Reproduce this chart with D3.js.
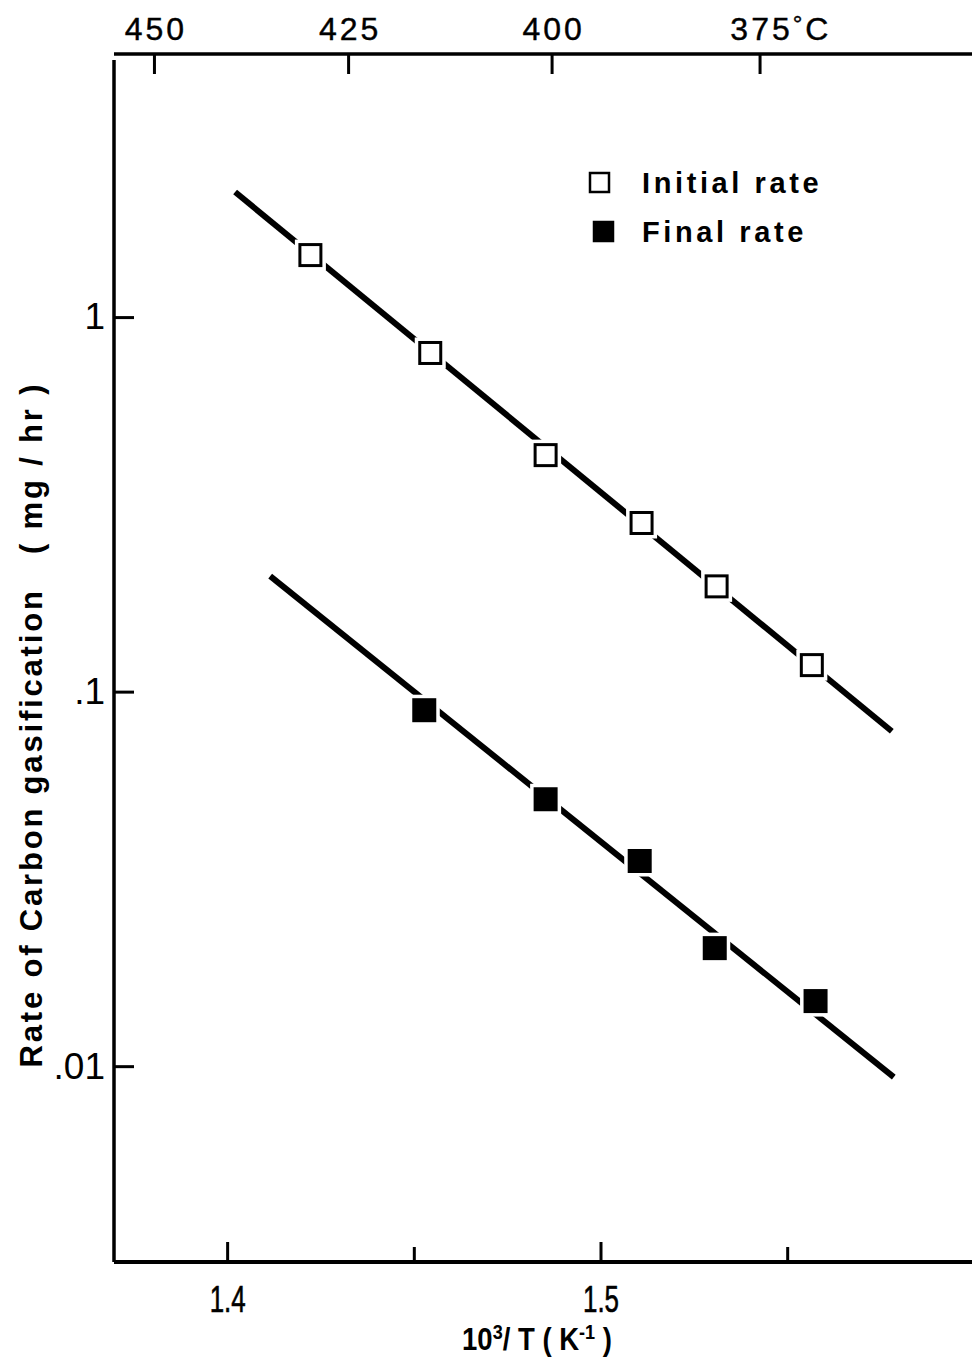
<!DOCTYPE html>
<html>
<head>
<meta charset="utf-8">
<script src="https://cdn.jsdelivr.net/npm/d3@7"></script>
<style>
  html, body { margin: 0; padding: 0; background: #fff; }
  svg { display: block; font-family: "Liberation Sans", Arial, sans-serif; }
</style>
</head>
<body>
<svg id="chart" width="972" height="1357"></svg>
<script>
// ---- Data ----
const initialX = [1.4223, 1.4544, 1.4853, 1.5110, 1.5311, 1.5566];
const initialY = [1.464, 0.802, 0.428, 0.282, 0.191, 0.1177];
const finalX   = [1.4528, 1.4853, 1.5105, 1.5306, 1.5576];
const finalY   = [0.0892, 0.0516, 0.0353, 0.02066, 0.01492];
// fitted lines (end points)
const initialLineX = [1.40214, 1.57802];
const initialLineY = [2.157, 0.0784];
const finalLineX   = [1.41153, 1.57855];
const finalLineY   = [0.2034, 0.00935];
// ticks
const bottomMajorTicks = [1.4, 1.5];
const bottomMinorTicks = [1.45, 1.55];
const bottomTickLabels = ["1.4", "1.5"];
const yTicks = [1, 0.1, 0.01];
const yTickLabels = ["1", ".1", ".01"];
// top temperature scale: positions (in 10^3/T) as drawn in the reference
const topTickPositions = [1.3804, 1.4324, 1.4869, 1.5426];
const topTickLabels = ["450", "425", "400", "375"];
const legendLabels = ["Initial rate", "Final rate"];

(function () {
// ---- Layout ----
const svg = d3.select("#chart");
const pLeft = 114, pRight = 972, pTop = 54, pBottom = 1262;

const x = d3.scaleLinear().domain([1.3697, 1.5995]).range([pLeft, pRight]);
const y = d3.scaleLog().domain([5.04, 0.003]).range([pTop, pBottom]);

function styleAxis(g, fs, sw) {
  g.selectAll(".domain").attr("stroke", "#000").attr("stroke-width", sw);
  g.selectAll(".tick line").attr("stroke", "#000").attr("stroke-width", 3);
  g.selectAll(".tick text").attr("fill", "#000").attr("font-size", fs)
    .attr("font-family", "'Liberation Sans', Arial, sans-serif");
}

// Bottom axis (major)
const gB = svg.append("g").attr("transform", `translate(0,${pBottom})`)
  .call(d3.axisBottom(x).tickValues(bottomMajorTicks)
    .tickFormat((d, i) => bottomTickLabels[i])
    .tickSizeInner(-20).tickSizeOuter(0).tickPadding(24));
styleAxis(gB, 36, 4);
gB.selectAll(".tick text").attr("textLength", 36).attr("lengthAdjust", "spacingAndGlyphs")
  .attr("stroke", "#000").attr("stroke-width", 0.6);
gB.select(".domain").attr("d", `M${pLeft},0H${pRight}`);
// Bottom axis (minor)
const gBm = svg.append("g").attr("transform", `translate(0,${pBottom})`)
  .call(d3.axisBottom(x).tickValues(bottomMinorTicks).tickFormat("")
    .tickSizeInner(-15).tickSizeOuter(0));
gBm.select(".domain").remove();
styleAxis(gBm, 27, 4);

// Left axis
const gL = svg.append("g").attr("transform", `translate(${pLeft},0)`)
  .call(d3.axisLeft(y).tickValues(yTicks)
    .tickFormat((d, i) => yTickLabels[i])
    .tickSizeInner(-20).tickSizeOuter(0).tickPadding(9));
styleAxis(gL, 37, 3.5);
gL.select(".domain").attr("d", `M0,${pTop + 6}V${pBottom}`);

// Top axis (temperature)
const gT = svg.append("g").attr("transform", `translate(0,${pTop})`)
  .call(d3.axisTop(x).tickValues(topTickPositions)
    .tickFormat((d, i) => topTickLabels[i])
    .tickSizeInner(-20).tickSizeOuter(0).tickPadding(14));
styleAxis(gT, 32, 3.5);
gT.selectAll(".tick text").attr("letter-spacing", 3).attr("dx", 1.5)
  .attr("stroke", "#000").attr("stroke-width", 0.4);
gT.select(".domain").attr("d", `M${pLeft},0H${pRight}`);
// append °C to last label, keeping number centred on tick
gT.selectAll(".tick text").each(function(d, i) {
  if (i === topTickLabels.length - 1) {
    const t = d3.select(this);
    const w = this.getComputedTextLength();
    t.attr("text-anchor", "start").attr("x", -w / 2);
    t.append("tspan").attr("font-size", 24).attr("dy", -8).text("°");
    t.append("tspan").attr("dy", 8).text("C");
  }
});

// Lines
const lineGen = d3.line().x(d => x(d[0])).y(d => y(d[1]));
svg.append("path").datum(d3.zip(initialLineX, initialLineY))
  .attr("d", lineGen).attr("stroke", "#000").attr("stroke-width", 6).attr("fill", "none");
svg.append("path").datum(d3.zip(finalLineX, finalLineY))
  .attr("d", lineGen).attr("stroke", "#000").attr("stroke-width", 6).attr("fill", "none");

// Markers
const ms = 21;
function markers(xs, ys, filled) {
  const pts = d3.zip(xs, ys);
  const g = svg.append("g");
  g.selectAll("rect.halo").data(pts).join("rect").attr("class", "halo")
    .attr("x", d => x(d[0]) - ms / 2 - 5).attr("y", d => y(d[1]) - ms / 2 - 5)
    .attr("width", ms + 10).attr("height", ms + 10).attr("fill", "#fff");
  g.selectAll("rect.m").data(pts).join("rect").attr("class", "m")
    .attr("x", d => x(d[0]) - ms / 2).attr("y", d => y(d[1]) - ms / 2)
    .attr("width", ms).attr("height", ms)
    .attr("fill", filled ? "#000" : "#fff").attr("stroke", "#000").attr("stroke-width", 3);
}
markers(initialX, initialY, false);
markers(finalX, finalY, true);

// Legend
const legend = svg.append("g");
[0, 1].forEach(i => {
  const cy = 182 + i * 49;
  const cx = 599 + i * 4;
  legend.append("rect").attr("x", cx - 9).attr("y", cy - 9).attr("width", 19).attr("height", 19)
    .attr("fill", i ? "#000" : "#fff").attr("stroke", "#000").attr("stroke-width", 2.5);
  legend.append("text").attr("x", 642).attr("y", cy + 11)
    .attr("font-size", 29).attr("font-weight", "bold").attr("letter-spacing", 3.6)
    .text(legendLabels[i]);
});

// Axis titles
const xt = svg.append("text").attr("transform", "translate(537,1350) scale(0.86,1)")
  .attr("text-anchor", "middle")
  .attr("font-size", 32).attr("font-weight", "bold").attr("xml:space", "preserve");
xt.append("tspan").text("10");
xt.append("tspan").attr("font-size", 21).attr("dy", -11).text("3");
xt.append("tspan").attr("dy", 11).text("/ T ( K");
xt.append("tspan").attr("font-size", 21).attr("dy", -11).text("-1");
xt.append("tspan").attr("dy", 11).text(" )");

svg.append("text")
  .attr("transform", "translate(42,726) rotate(-90)")
  .attr("text-anchor", "middle").attr("font-size", 31).attr("font-weight", "bold")
  .attr("textLength", 683).attr("lengthAdjust", "spacing")
  .attr("xml:space", "preserve")
  .text("Rate of Carbon gasification   ( mg / hr )");
})();
</script>
</body>
</html>
